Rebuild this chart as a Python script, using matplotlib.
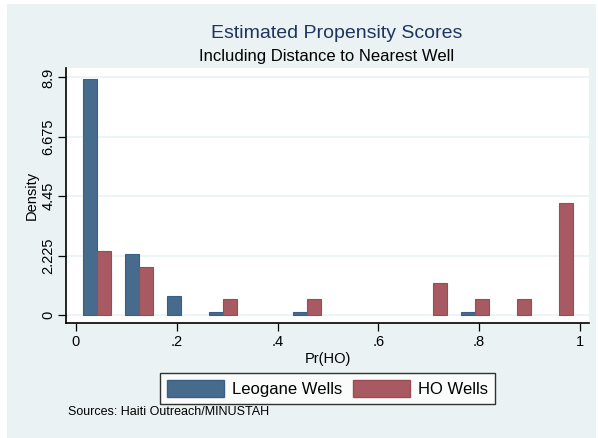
import matplotlib

matplotlib.use("Agg")
import matplotlib.pyplot as plt
from matplotlib.patches import Rectangle, Patch

plt.rcParams["font.family"] = ["Liberation Sans", "DejaVu Sans"]

# histogram bins (midpoints, 12 bins on [0, 1])
bin_mids = [0.0417, 0.125, 0.2083, 0.2917, 0.375, 0.4583,
            0.5417, 0.625, 0.7083, 0.7917, 0.875, 0.9583]
bin_width = 1 / 12

# densities
leogane = [8.83, 2.3, 0.7, 0.1, 0, 0.1, 0, 0, 0, 0.1, 0, 0]
ho_wells = [2.4, 1.8, 0, 0.6, 0, 0.6, 0, 0, 1.2, 0.6, 0.6, 4.2]

y_ticks = [0, 2.225, 4.45, 6.675, 8.9]
y_tick_labels = ["0", "2.225", "4.45", "6.675", "8.9"]
x_ticks = [0, 0.2, 0.4, 0.6, 0.8, 1]
x_tick_labels = ["0", ".2", ".4", ".6", ".8", "1"]

BG = "#EAF2F3"
NAVY = "#476B8D"
MAROON = "#A75A61"

W, H = 598, 438
fig = plt.figure(figsize=(W / 100, H / 100), dpi=100, facecolor="white")
fig.patches.append(Rectangle((7 / W, 0), 589 / W, 434 / H, transform=fig.transFigure,
                             facecolor=BG, edgecolor="none", zorder=-10))

ax = fig.add_axes([66 / W, (H - 323) / H, (589 - 66) / W, (323 - 68) / H])
ax.set_facecolor("white")

bar_w = bin_width / 3
# skip empty bins so no flat outlines are drawn along zero
leo_x = [m - bar_w for m, v in zip(bin_mids, leogane) if v > 0]
leo_y = [v for v in leogane if v > 0]
ho_x = [m for m, v in zip(bin_mids, ho_wells) if v > 0]
ho_y = [v for v in ho_wells if v > 0]

ax.bar(leo_x, leo_y, width=bar_w, align="edge", color=NAVY,
       edgecolor="#3A5F84", linewidth=0.8, zorder=3)
ax.bar(ho_x, ho_y, width=bar_w, align="edge", color=MAROON,
       edgecolor="#9A4B53", linewidth=0.8, zorder=3)

ax.set_xlim(-0.0198, 1.018)
ax.set_ylim(-0.30, 9.256)

ax.set_yticks(y_ticks)
ax.set_yticklabels(y_tick_labels, rotation=90, va="center", fontsize=10.5)
ax.set_xticks(x_ticks)
ax.set_xticklabels(x_tick_labels, fontsize=10.5)
ax.tick_params(direction="out", length=5.5, width=0.9, color="black", labelcolor="black")
ax.tick_params(axis="y", pad=2)
ax.tick_params(axis="x", pad=3)

ax.grid(axis="y", color=BG, linewidth=1.2, zorder=0)
ax.set_axisbelow(True)

for side in ["top", "right"]:
    ax.spines[side].set_visible(False)
for side in ["left", "bottom"]:
    ax.spines[side].set_linewidth(1.2)
    ax.spines[side].set_color("black")

ax.set_ylabel("Density", fontsize=10.5, labelpad=2)
ax.set_xlabel("Pr(HO)", fontsize=10.5, labelpad=2)

fig.text(0.5 + 38 / W, 1 - 33 / H, "Estimated Propensity Scores", ha="center",
         va="center", fontsize=14, color="#1E3560")
fig.text(0.5 + 28 / W, 1 - 56 / H, "Including Distance to Nearest Well", ha="center",
         va="center", fontsize=12, color="black")

handles = [Patch(facecolor=NAVY, edgecolor="#3A5F84", label="Leogane Wells"),
           Patch(facecolor=MAROON, edgecolor="#9A4B53", label="HO Wells")]
leg = fig.legend(handles=handles, loc="center", ncol=2,
                 bbox_to_anchor=(327.5 / W, 1 - 388.5 / H), fontsize=12,
                 frameon=True, fancybox=False, edgecolor="black",
                 handlelength=3.4, handleheight=1.15, handletextpad=0.5,
                 columnspacing=0.65, borderpad=0.42, borderaxespad=0)
leg.get_frame().set_linewidth(1.0)
leg.get_frame().set_facecolor("white")

fig.text(68 / W, 1 - 412 / H, "Sources: Haiti Outreach/MINUSTAH", ha="left",
         va="center", fontsize=9, color="black")

fig.savefig("out.png", dpi=100, facecolor="white")
